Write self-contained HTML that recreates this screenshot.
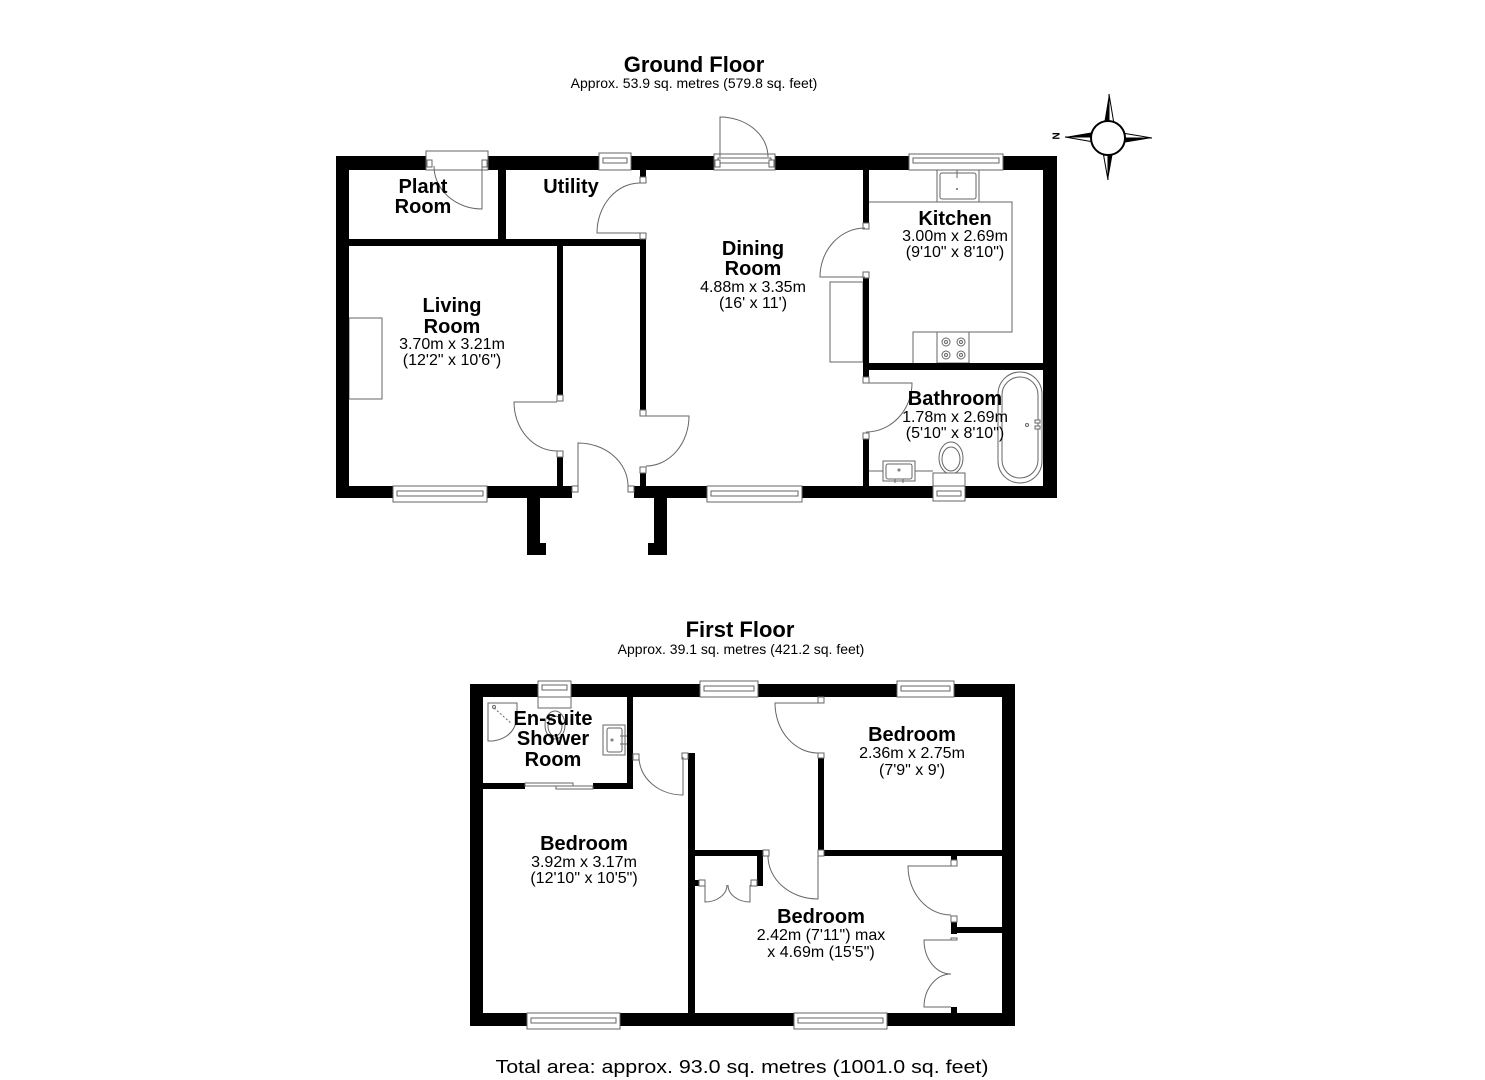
<!DOCTYPE html>
<html><head><meta charset="utf-8"><style>
html,body{margin:0;padding:0;background:#fff;}
svg{display:block;}
.t{font-family:"Liberation Sans",Arial,sans-serif;fill:#000;}
.b{font-weight:bold;font-size:20px;}
.d{font-size:16px;}
.l{fill:none;stroke:#666;stroke-width:1;}
.w{fill:#fff;stroke:#666;stroke-width:1;}
</style></head><body>
<svg width="1485" height="1080" viewBox="0 0 1485 1080" xmlns="http://www.w3.org/2000/svg">
<rect width="1485" height="1080" fill="#fff"/>

<!-- ===== GROUND FLOOR ===== -->
<text class="t" x="694" y="72" text-anchor="middle" font-size="22" font-weight="bold">Ground Floor</text>
<text class="t" x="694" y="88" text-anchor="middle" font-size="14">Approx. 53.9 sq. metres (579.8 sq. feet)</text>

<!-- fixtures (under walls) -->
<rect class="w" x="349" y="318" width="33" height="81"/>
<rect class="w" x="830" y="282" width="33" height="80"/>
<!-- kitchen -->
<polyline class="l" points="869,202 1012,202 1012,332 913,332 913,363"/>
<rect class="w" x="937" y="170" width="42" height="32"/>
<rect class="w" x="940" y="173" width="36" height="26" rx="2"/>
<line class="l" x1="957" y1="170" x2="957" y2="178"/>
<circle cx="957" cy="189" r="1" fill="#666"/>
<rect class="w" x="937" y="332" width="32" height="31"/>
<circle class="l" cx="946" cy="342" r="4"/><circle class="l" cx="961" cy="342" r="4"/>
<circle class="l" cx="946" cy="355" r="4"/><circle class="l" cx="961" cy="355" r="4"/>
<circle class="l" cx="946" cy="342" r="1.5"/><circle class="l" cx="961" cy="342" r="1.5"/>
<circle class="l" cx="946" cy="355" r="1.5"/><circle class="l" cx="961" cy="355" r="1.5"/>
<!-- bathroom -->
<rect class="w" x="998" y="372" width="44" height="111" rx="22"/>
<rect class="l" x="1002" y="377" width="36" height="101" rx="18"/>
<circle class="l" cx="1027" cy="425" r="1.5"/>
<rect class="w" x="1035" y="420" width="5" height="3"/><rect class="w" x="1035" y="426" width="5" height="3"/>
<line class="l" x1="869" y1="471" x2="883" y2="471"/><line class="l" x1="915" y1="471" x2="933" y2="471"/>
<rect class="w" x="883" y="461" width="32" height="20"/>
<rect class="l" x="886" y="464" width="26" height="15" rx="2"/>
<circle class="l" cx="899" cy="470" r="1"/>
<line class="l" x1="895" y1="479" x2="895" y2="483"/><line class="l" x1="903" y1="479" x2="903" y2="483"/>
<ellipse class="w" cx="951" cy="458" rx="12" ry="16"/>
<ellipse class="l" cx="951" cy="459" rx="9" ry="12"/>
<rect class="w" x="933" y="473" width="32" height="13"/>

<g fill="#000">
<rect x="336" y="156" width="721" height="14"/>
<rect x="336" y="156" width="13" height="342"/>
<rect x="1043" y="156" width="14" height="342"/>
<rect x="336" y="486" width="236" height="12"/>
<rect x="634" y="486" width="423" height="12"/>
<rect x="498" y="170" width="8" height="69"/>
<rect x="349" y="239" width="297" height="7"/>
<rect x="640" y="170" width="6" height="7"/>
<rect x="640" y="239" width="6" height="171"/>
<rect x="640" y="473" width="6" height="13"/>
<rect x="557" y="246" width="6" height="149"/>
<rect x="557" y="457" width="6" height="29"/>
<rect x="863" y="170" width="6" height="53"/>
<rect x="863" y="278" width="6" height="85"/>
<rect x="863" y="363" width="180" height="7"/>
<rect x="863" y="370" width="6" height="7"/>
<rect x="863" y="439" width="6" height="47"/>
<rect x="527" y="498" width="13" height="57"/>
<rect x="540" y="543" width="6" height="12"/>
<rect x="654" y="498" width="13" height="57"/>
<rect x="648" y="543" width="6" height="12"/>
</g>
<!-- jambs -->
<g class="w">
<rect x="640" y="177" width="6" height="6"/><rect x="640" y="233" width="6" height="6"/>
<rect x="640" y="410" width="6" height="6"/><rect x="640" y="467" width="6" height="6"/>
<rect x="557" y="395" width="6" height="6"/><rect x="557" y="451" width="6" height="6"/>
<rect x="572" y="486" width="6" height="6"/><rect x="628" y="486" width="6" height="6"/>
<rect x="863" y="223" width="6" height="6"/><rect x="863" y="272" width="6" height="6"/>
<rect x="863" y="377" width="6" height="6"/><rect x="863" y="433" width="6" height="6"/>
</g>
<!-- windows ground -->
<g>
<rect class="w" x="426" y="151" width="62" height="19"/>
<rect class="w" x="427" y="160" width="5" height="7"/><rect class="w" x="482" y="160" width="5" height="7"/>
<rect class="w" x="599" y="153" width="32" height="17"/><rect class="l" x="603" y="158" width="24" height="5"/>
<rect class="w" x="714" y="154" width="61" height="16"/><rect class="l" x="718" y="158" width="53" height="5"/>
<rect class="w" x="715" y="160" width="5" height="7"/><rect class="w" x="769" y="160" width="5" height="7"/>
<rect class="w" x="909" y="154" width="94" height="16"/><rect class="l" x="913" y="158" width="86" height="5"/>
<rect class="w" x="393" y="486" width="94" height="16"/><rect class="l" x="397" y="491" width="86" height="5"/>
<rect class="w" x="707" y="486" width="95" height="16"/><rect class="l" x="711" y="491" width="87" height="5"/>
<rect class="w" x="933" y="486" width="32" height="15"/><rect class="l" x="937" y="491" width="24" height="5"/>
</g>
<!-- doors ground -->
<g class="l">
<path d="M482,166 L482,209 A48,43 0 0 1 434,166"/>
<path d="M640,233 L597,233 A43,50 0 0 1 640,183"/>
<path d="M720,157 L720,117 A48,40 0 0 1 768,157"/>
<path d="M865,277 L820,277 A45,49 0 0 1 865,228"/>
<path d="M866,383 L912,383 A46,49 0 0 1 866,432"/>
<path d="M557,402 L514,402 A43,49 0 0 0 557,451"/>
<path d="M578,486 L578,443 A50,43 0 0 1 628,486"/>
<path d="M646,416 L689,416 A43,50 0 0 1 646,466"/>
</g>

<text class="t b" x="423" y="193" text-anchor="middle">Plant</text>
<text class="t b" x="423" y="213" text-anchor="middle">Room</text>
<text class="t b" x="571" y="193" text-anchor="middle">Utility</text>
<text class="t b" x="452" y="312" text-anchor="middle">Living</text>
<text class="t b" x="452" y="333" text-anchor="middle">Room</text>
<text class="t d" x="452" y="349" text-anchor="middle">3.70m x 3.21m</text>
<text class="t d" x="452" y="365" text-anchor="middle">(12'2" x 10'6")</text>
<text class="t b" x="753" y="255" text-anchor="middle">Dining</text>
<text class="t b" x="753" y="275" text-anchor="middle">Room</text>
<text class="t d" x="753" y="292" text-anchor="middle">4.88m x 3.35m</text>
<text class="t d" x="753" y="308" text-anchor="middle">(16' x 11')</text>
<text class="t b" x="955" y="225" text-anchor="middle">Kitchen</text>
<text class="t d" x="955" y="241" text-anchor="middle">3.00m x 2.69m</text>
<text class="t d" x="955" y="257" text-anchor="middle">(9'10" x 8'10")</text>
<text class="t b" x="955" y="405" text-anchor="middle">Bathroom</text>
<text class="t d" x="955" y="422" text-anchor="middle">1.78m x 2.69m</text>
<text class="t d" x="955" y="438" text-anchor="middle">(5'10" x 8'10")</text>

<!-- compass -->
<g>
<polygon points="1109,94 1104,124 1109,124" fill="#000"/>
<polygon points="1109,94 1114,124 1109,124" fill="#fff" stroke="#000" stroke-width="1"/>
<polygon points="1108,180 1113,152 1108,152" fill="#000"/>
<polygon points="1108,180 1103,152 1108,152" fill="#fff" stroke="#000" stroke-width="1"/>
<polygon points="1065,137 1094,132 1094,137" fill="#000"/>
<polygon points="1065,137 1094,142 1094,137" fill="#fff" stroke="#000" stroke-width="1"/>
<polygon points="1152,138 1122,143 1122,138" fill="#000"/>
<polygon points="1152,138 1122,133 1122,138" fill="#fff" stroke="#000" stroke-width="1"/>
<circle cx="1108" cy="138" r="17" fill="#fff" stroke="#000" stroke-width="2"/>
<text class="t" transform="translate(1056,136) rotate(90)" text-anchor="middle" dy="3.5" font-size="10" font-weight="bold">N</text>
</g>

<!-- ===== FIRST FLOOR ===== -->
<text class="t" x="740" y="637" text-anchor="middle" font-size="22" font-weight="bold">First Floor</text>
<text class="t" x="741" y="654" text-anchor="middle" font-size="14">Approx. 39.1 sq. metres (421.2 sq. feet)</text>

<!-- ensuite fixtures -->
<path class="w" d="M488,703 L517,703 L517,718 Q514,738 493,741 L488,741 Z"/>
<line class="l" x1="494" y1="708" x2="512" y2="724" stroke-dasharray="2,2"/>
<circle class="l" cx="494" cy="707" r="1.5"/>
<ellipse class="w" cx="555" cy="725" rx="10" ry="14"/>
<ellipse class="l" cx="555" cy="726" rx="7" ry="10"/>
<rect class="w" x="603" y="725" width="22" height="30"/>
<rect class="l" x="607" y="728" width="15" height="24" rx="2"/>
<circle class="l" cx="612" cy="740" r="1"/>
<line class="l" x1="620" y1="736" x2="627" y2="736"/><line class="l" x1="620" y1="744" x2="627" y2="744"/>

<g fill="#000">
<rect x="470" y="684" width="545" height="13"/>
<rect x="470" y="684" width="13" height="342"/>
<rect x="1002" y="684" width="13" height="342"/>
<rect x="470" y="1013" width="545" height="13"/>
<rect x="627" y="697" width="6" height="92"/>
<rect x="483" y="783" width="42" height="6"/>
<rect x="593" y="783" width="40" height="6"/>
<rect x="688" y="753" width="7" height="260"/>
<rect x="818" y="758" width="6" height="92"/>
<rect x="824" y="850" width="178" height="6"/>
<rect x="695" y="850" width="68" height="6"/>
<rect x="757" y="856" width="6" height="30"/>
<rect x="695" y="880" width="4" height="6"/>
<rect x="951" y="856" width="6" height="4"/>
<rect x="951" y="922" width="6" height="12"/>
<rect x="957" y="927" width="45" height="6"/>
<rect x="951" y="1007" width="6" height="6"/>
</g>
<g class="w">
<rect x="682" y="753" width="6" height="6"/>
<rect x="633" y="754" width="6" height="6"/>
<rect x="818" y="697" width="6" height="6"/>
<rect x="818" y="753" width="6" height="5"/>
<rect x="818" y="850" width="6" height="6"/>
<rect x="763" y="850" width="6" height="6"/>
<rect x="751" y="880" width="6" height="6"/>
<rect x="699" y="880" width="6" height="6"/>
<rect x="951" y="860" width="6" height="6"/>
<rect x="951" y="916" width="6" height="6"/>
<rect x="951" y="938" width="6" height="2"/>
</g>
<!-- windows first -->
<g>
<rect class="w" x="538" y="681" width="33" height="27"/>
<rect class="l" x="542" y="685" width="25" height="5"/>
<line class="l" x1="538" y1="697" x2="571" y2="697"/>
<rect class="w" x="700" y="681" width="58" height="16"/><rect class="l" x="704" y="686" width="50" height="5"/>
<rect class="w" x="897" y="681" width="57" height="16"/><rect class="l" x="901" y="686" width="49" height="5"/>
<rect class="w" x="527" y="1013" width="93" height="16"/><rect class="l" x="531" y="1018" width="85" height="5"/>
<rect class="w" x="794" y="1013" width="93" height="16"/><rect class="l" x="798" y="1018" width="85" height="5"/>
<rect class="w" x="525" y="783" width="48" height="3"/>
<rect class="w" x="556" y="786" width="37" height="3"/>
</g>
<!-- doors first -->
<g class="l">
<path d="M683,757 L683,795 A44,38 0 0 1 639,757"/>
<path d="M818,703 L775,703 A43,50 0 0 0 818,753"/>
<path d="M818,856 L818,899 A50,43 0 0 1 768,856"/>
<path d="M951,866 L908,866 A43,49 0 0 0 951,915"/>
<path d="M951,940 L924,940 A27,34 0 0 0 951,974"/>
<path d="M951,1007 L924,1007 A27,33 0 0 1 951,974"/>
<path d="M705,885 L705,902 A22,17 0 0 0 727,885"/>
<path d="M750,885 L750,902 A22,17 0 0 1 728,885"/>
</g>

<text class="t b" x="553" y="725" text-anchor="middle">En-suite</text>
<text class="t b" x="553" y="745" text-anchor="middle">Shower</text>
<text class="t b" x="553" y="766" text-anchor="middle">Room</text>
<text class="t b" x="584" y="850" text-anchor="middle">Bedroom</text>
<text class="t d" x="584" y="867" text-anchor="middle">3.92m x 3.17m</text>
<text class="t d" x="584" y="883" text-anchor="middle">(12'10" x 10'5")</text>
<text class="t b" x="912" y="741" text-anchor="middle">Bedroom</text>
<text class="t d" x="912" y="758" text-anchor="middle">2.36m x 2.75m</text>
<text class="t d" x="912" y="775" text-anchor="middle">(7'9" x 9')</text>
<text class="t b" x="821" y="923" text-anchor="middle">Bedroom</text>
<text class="t d" x="821" y="940" text-anchor="middle">2.42m (7'11") max</text>
<text class="t d" x="821" y="957" text-anchor="middle">x 4.69m (15'5")</text>

<text class="t" x="742" y="1073" text-anchor="middle" font-size="18" textLength="493" lengthAdjust="spacingAndGlyphs">Total area: approx. 93.0 sq. metres (1001.0 sq. feet)</text>
</svg>
</body></html>
